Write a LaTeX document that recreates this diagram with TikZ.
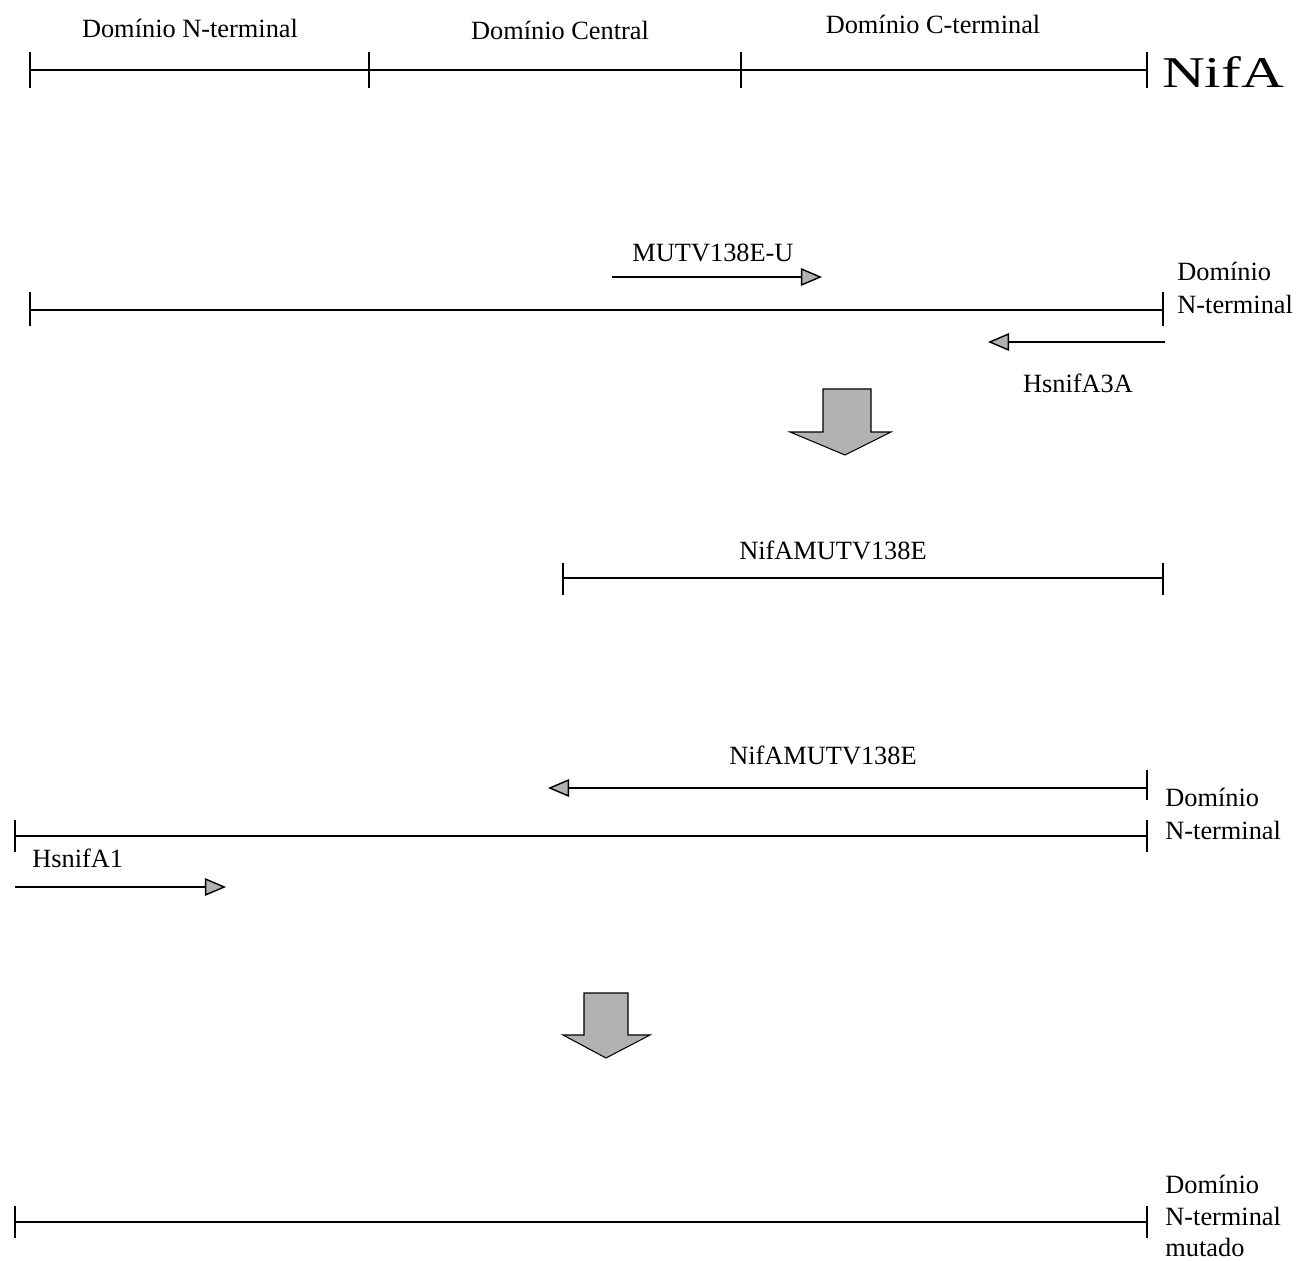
\documentclass[tikz,border=0pt]{standalone}
\usepackage{fontspec}
\setmainfont{Liberation Serif}
\usetikzlibrary{arrows.meta, positioning}

\begin{document}
\begin{tikzpicture}[
    x=0.02cm, y=-0.02cm,
    seg/.style={line width=0.8pt},
    tickmark/.style={line width=0.8pt},
    primer/.style={line width=0.8pt, -{Triangle[length=12pt, width=10pt, fill=gray!60]}},
    lbl/.style={font=\fontsize{15}{19}\selectfont, inner sep=0pt},
    side/.style={lbl, align=left, anchor=west},
    fatarrow/.style={draw, fill=gray!60, line width=0.6pt}
]
    \useasboundingbox (0,0) rectangle (1300,1260);

    % NifA domains
    \coordinate (n0) at (30,70);
    \coordinate (n1) at (369,70);
    \coordinate (n2) at (741,70);
    \coordinate (n3) at (1147,70);
    \draw[seg] (n0) -- (n3);
    \foreach \c in {n0,n1,n2,n3}
        \draw[tickmark] (\c) ++(0,-18) -- ++(0,36);
    \node[lbl] (domN) at (190,28) {Domínio N-terminal};
    \node[lbl] (domC) at (560,30) {Domínio Central};
    \node[lbl] (domCt) at (933,24) {Domínio C-terminal};
    \node[lbl, font=\fontsize{25}{30}\selectfont] (nifa) at (1223,72) {\scalebox{1.35}[1]{NifA}};

    % first PCR
    \coordinate (a0) at (30,310);
    \coordinate (a1) at (1163,310);
    \draw[seg] (a0) -- (a1);
    \foreach \c in {a0,a1}
        \draw[tickmark] (\c) ++(0,-18) -- ++(0,34);
    \coordinate (mutS) at (612,277);
    \coordinate (mutE) at (822,277);
    \draw[primer] (mutS) -- (mutE);
    \node[lbl] (mutU) at (713,253) {MUTV138E-U};
    \coordinate (h3S) at (1165,342);
    \coordinate (h3E) at (988,342);
    \draw[primer] (h3S) -- (h3E);
    \node[lbl] (h3A) at (1078,383) {HsnifA3A};
    \node[side] (domA) at (1177,288) {Domínio\\N-terminal};

    \draw[fatarrow] (823,389) -- (871,389) -- (871,432) -- (891,432)
        -- (845,455) -- (790,432) -- (823,432) -- cycle;

    % product
    \coordinate (p0) at (563,578);
    \coordinate (p1) at (1163,578);
    \draw[seg] (p0) -- (p1);
    \foreach \c in {p0,p1}
        \draw[tickmark] (\c) ++(0,-15) -- ++(0,32);
    \node[lbl] (prod) at (833,550) {NifAMUTV138E};

    % second PCR
    \coordinate (pS) at (1147,788);
    \coordinate (pE) at (548,788);
    \draw[primer] (pS) -- (pE);
    \draw[tickmark] (pS) ++(0,-18) -- ++(0,30);
    \node[lbl] (prod2) at (823,755) {NifAMUTV138E};
    \coordinate (b0) at (15,836);
    \coordinate (b1) at (1147,836);
    \draw[seg] (b0) -- (b1);
    \foreach \c in {b0,b1}
        \draw[tickmark] (\c) ++(0,-16) -- ++(0,32);
    \node[side] (domB) at (1165,814) {Domínio\\N-terminal};
    \node[lbl, anchor=west] (h1) at (32,858) {HsnifA1};
    \coordinate (h1S) at (15,887);
    \coordinate (h1E) at (226,887);
    \draw[primer] (h1S) -- (h1E);

    \draw[fatarrow] (584,993) -- (628,993) -- (628,1035) -- (650,1035)
        -- (606,1058) -- (563,1035) -- (584,1035) -- cycle;

    % mutated fragment
    \coordinate (c0) at (15,1222);
    \coordinate (c1) at (1147,1222);
    \draw[seg] (c0) -- (c1);
    \foreach \c in {c0,c1}
        \draw[tickmark] (\c) ++(0,-16) -- ++(0,32);
    \node[side, font=\fontsize{15}{18}\selectfont] (domM) at (1165,1216) {Domínio\\N-terminal\\mutado};
\end{tikzpicture}
\end{document}
